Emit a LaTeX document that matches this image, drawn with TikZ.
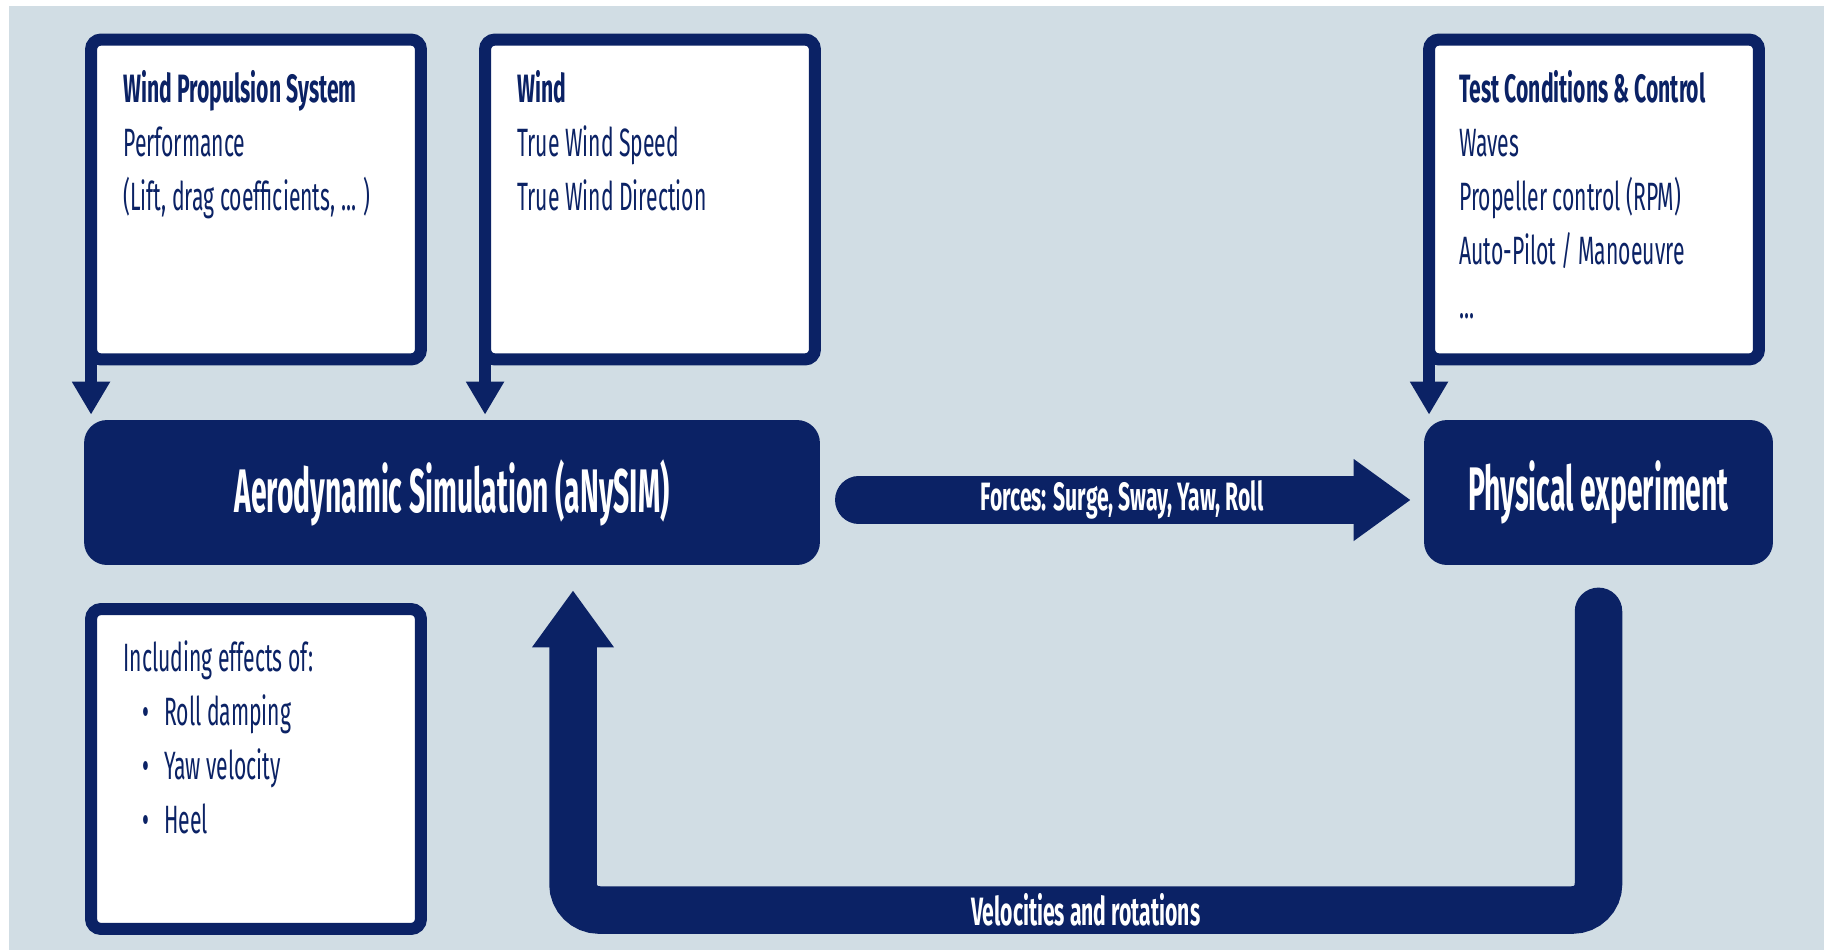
\documentclass[tikz,border=0pt]{standalone}
\usepackage{fontspec}
\setmainfont{Fira Sans}[FakeStretch=0.535]
\newfontfamily\blockfont{Fira Sans}[FakeStretch=0.46]
\usetikzlibrary{positioning}
\usetikzlibrary{arrows.meta}
\usetikzlibrary{calc}
\definecolor{deepnavy}{HTML}{0B2265}
\definecolor{paleblue}{HTML}{D1DDE4}
\tikzstyle{inbox}=[draw=deepnavy,fill=white,line width=0.24cm,rounded corners=0.2cm,minimum width=6.6cm,minimum height=6.4cm,inner sep=0pt,outer sep=0pt]
\tikzstyle{boxtext}=[anchor=north west,align=left,text=deepnavy,inner sep=0pt,font=\fontsize{22.5}{30.7}\selectfont]
\tikzstyle{block}=[fill=deepnavy,rounded corners=0.46cm,text=white,inner sep=0pt,font=\blockfont\fontsize{35}{40}\selectfont\bfseries]
\tikzstyle{feed} = [draw=deepnavy,line width=0.24cm,-{Triangle[width=0.72cm,length=0.66cm]}]
\tikzstyle{bigarrow} = [draw=deepnavy,line width=0.95cm,line cap=round,-{Triangle[width=1.56cm,length=1.14cm]}]
\tikzstyle{flowlabel} = [text=white,inner sep=0pt,font=\fontsize{22.5}{26}\selectfont\bfseries]

\begin{document}
\begin{tikzpicture}[x=0.02cm,y=-0.02cm]

  \useasboundingbox (0,0) rectangle (1824,950);
  \fill[paleblue] (9,6) rectangle (1824,950);

  % input boxes
  \foreach \pos/\name in {{(256,199.5)/wps}, {(650,199.5)/wind}, {(1594,199.5)/test}, {(256,769)/effects}}
     \node[inbox] (\name) at \pos {};

  \node[boxtext] (wpstext) at ($(wps.north west)+(32,31)$)
     {\textbf{Wind Propulsion System}\\Performance\\(Lift, drag coefficients, ... )};
  \node[boxtext] (windtext) at ($(wind.north west)+(32,31)$)
     {\textbf{Wind}\\True Wind Speed\\True Wind Direction};
  \node[boxtext] (testtext) at ($(test.north west)+(30,31)$)
     {\textbf{Test Conditions \& Control}\\Waves\\Propeller control (RPM)\\Auto-Pilot / Manoeuvre\\...};
  \node[boxtext] (effectstext) at ($(effects.north west)+(32,31)$)
     {Including effects of:\\
      \hspace{0.38cm}\textbullet\hspace{0.3cm}Roll damping\\
      \hspace{0.38cm}\textbullet\hspace{0.3cm}Yaw velocity\\
      \hspace{0.38cm}\textbullet\hspace{0.3cm}Heel};

  % simulation and experiment
  \node[block,minimum width=14.72cm,minimum height=2.9cm] (aero) at (452,492.5) {Aerodynamic Simulation (aNySIM)};
  \node[block,minimum width=6.98cm,minimum height=2.9cm] (phys) at (1598.5,492.5) {Physical experiment};

  \foreach \source/\dest in {wps/aero, wind/aero, test/phys}
     \draw[feed,shorten >=0.1cm] ($(\source.south west)+(0,-20)$) -- (\source.south west |- \dest.north);

  \draw[bigarrow,shorten <=0.77cm,shorten >=0.26cm] ($(aero.east)+(0,7.5)$) --
     node[flowlabel] {Forces: Surge, Sway, Yaw, Roll} ($(phys.west)+(0,7.5)$);

  \coordinate (bend) at (573,910);
  \draw[bigarrow,rounded corners=0.52cm,shorten <=0.92cm,shorten >=0.5cm] (phys.south) -- (phys.south |- bend)
     -- node[flowlabel] {Velocities and rotations} (bend) -- (bend |- aero.south);

\end{tikzpicture}
\end{document}
